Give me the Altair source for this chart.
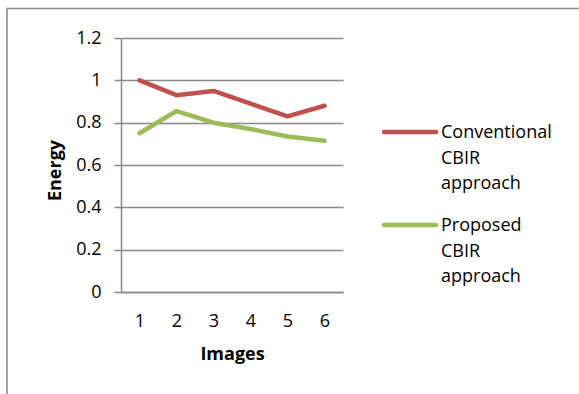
import altair as alt
import pandas as pd

# Energy per test image for the two retrieval approaches
IMAGES = [1, 2, 3, 4, 5, 6]
CONVENTIONAL = [1.00, 0.93, 0.95, 0.89, 0.83, 0.88]
PROPOSED = [0.75, 0.855, 0.80, 0.77, 0.735, 0.715]
SERIES = ["Conventional CBIR approach", "Proposed CBIR approach"]
COLORS = ["#C0504D", "#9BBB59"]
Y_TICKS = [0, 0.2, 0.4, 0.6, 0.8, 1.0, 1.2]

FONT = "Open Sans"
GRID = "#898989"

rows = []
for name, values in zip(SERIES, [CONVENTIONAL, PROPOSED]):
    for img, v in zip(IMAGES, values):
        rows.append({"Images": img, "Energy": v, "series": name})
df = pd.DataFrame(rows)
legend_df = pd.DataFrame({"series": SERIES})

color = alt.Color(
    "series:N",
    scale=alt.Scale(domain=SERIES, range=COLORS),
    legend=None,
)

lines = alt.Chart(df).mark_line(strokeWidth=4.5, strokeJoin="round", strokeCap="round").encode(
    x=alt.X(
        "Images:O",
        scale=alt.Scale(type="point", padding=0.5),
        axis=alt.Axis(
            title="Images",
            labelAngle=0,
            ticks=False,
            tickSize=0,
            labelPadding=20,
            labelFont=FONT,
            labelFontSize=18,
            labelColor="#000",
            domainColor=GRID,
            domainWidth=1.5,
            titleFont=FONT,
            titleFontSize=18,
            titleFontWeight="bold",
            titleColor="#000",
            titleBaseline="alphabetic",
            titleY=67,
        ),
    ),
    y=alt.Y(
        "Energy:Q",
        scale=alt.Scale(domain=[0, 1.2], nice=False),
        axis=alt.Axis(
            title="Energy",
            values=Y_TICKS,
            format="~g",
            grid=True,
            gridColor=GRID,
            gridWidth=1.5,
            domainColor=GRID,
            domainWidth=1.5,
            tickColor=GRID,
            tickWidth=1.5,
            tickSize=7,
            labelPadding=13,
            labelFont=FONT,
            labelFontSize=18,
            labelColor="#000",
            titleFont=FONT,
            titleFontSize=18,
            titleFontWeight="bold",
            titleColor="#000",
            titleAngle=-90,
            titleBaseline="alphabetic",
            titleX=-61,
            titleY=132,
        ),
    ),
    color=color,
    detail="series:N",
)

legend_y = alt.Y(
    "series:N",
    scale=alt.Scale(type="point", domain=SERIES, range=[94, 187], padding=0),
    axis=None,
)

legend_rule = alt.Chart(legend_df).mark_rule(strokeWidth=4.5, strokeCap="round").encode(
    x=alt.value(263),
    x2=alt.value(315),
    y=legend_y,
    color=color,
)

legend_text = alt.Chart(legend_df).mark_text(
    align="left",
    baseline="top",
    dy=-8,
    lineBreak=" ",
    lineHeight=25.5,
    font=FONT,
    fontSize=18,
    color="#000",
).encode(
    x=alt.value(320),
    y=legend_y,
    text="series:N",
)

frame = alt.Chart(legend_df.head(1)).mark_rect(
    fillOpacity=0, stroke="#8c8c8c", strokeWidth=1.6
).encode(
    x=alt.value(-114),
    x2=alt.value(600),
    y=alt.value(-29.5),
    y2=alt.value(500),
)

chart = (
    alt.layer(lines, legend_rule, legend_text, frame)
    .resolve_scale(y="independent")
    .properties(
        width=222,
        height=254,
        padding={"left": 121, "top": 38, "right": 236, "bottom": 102},
        autosize=alt.AutoSizeParams(type="none"),
        background="white",
    )
    .configure_view(stroke=None)
)

chart.save("out.html", embed_options={"renderer": "svg", "actions": False})
